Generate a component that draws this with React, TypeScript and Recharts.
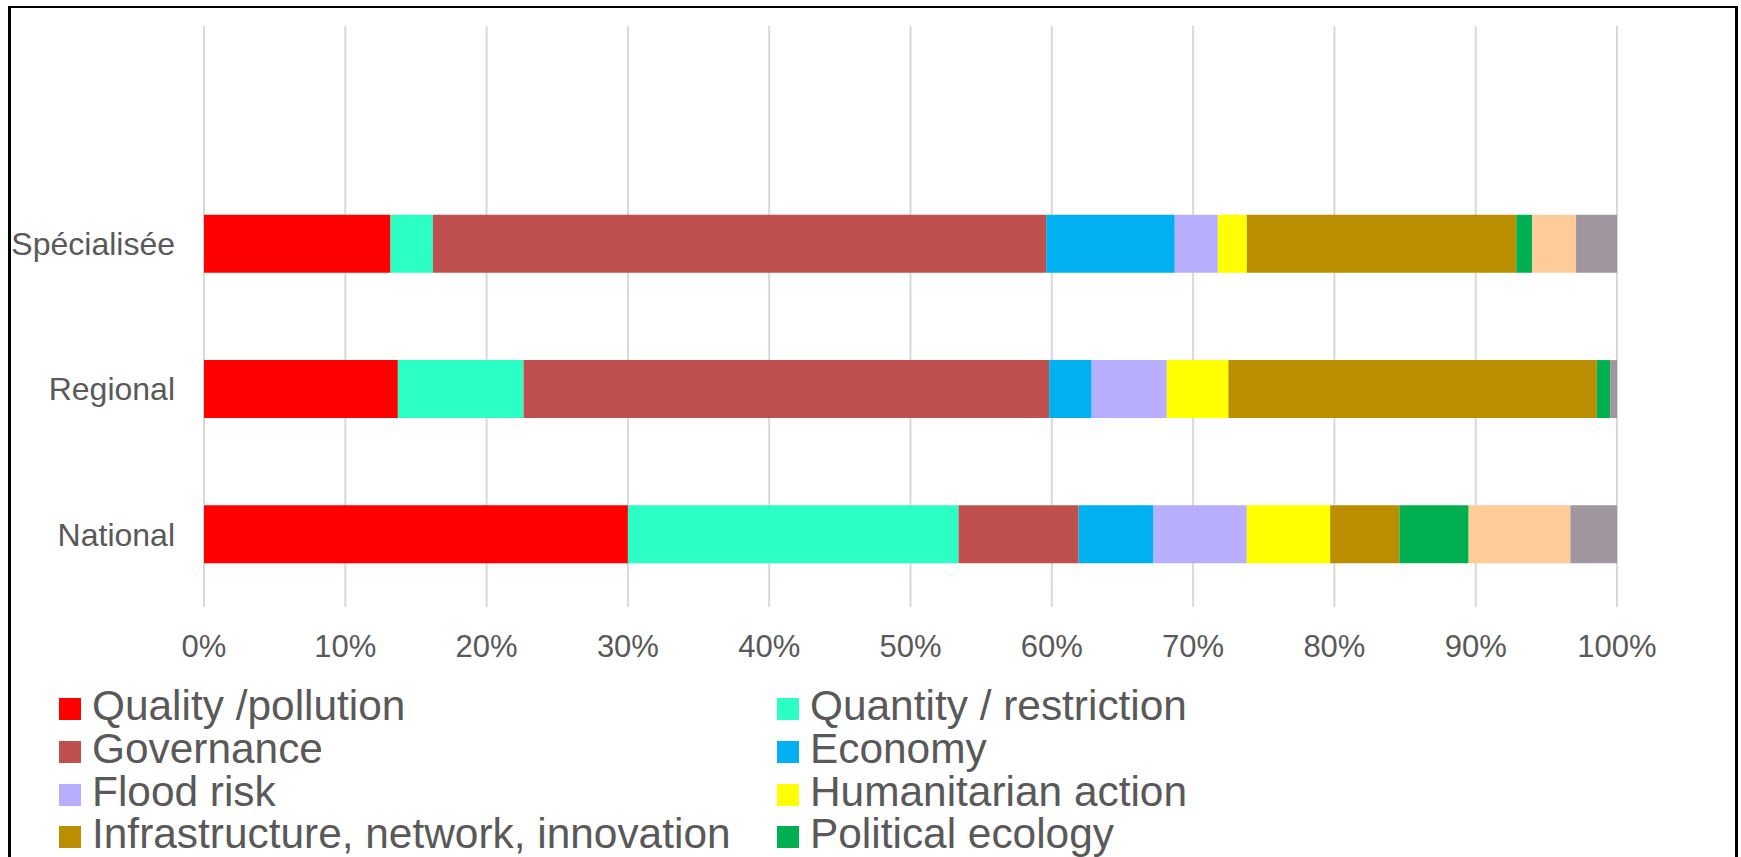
import { BarChart, Bar, XAxis, YAxis, CartesianGrid } from 'recharts';

// top to bottom; the first band is left empty, as in the source chart
const categories = ['', 'Spécialisée', 'Regional', 'National'];

const qualityPollution = [null, 13.2, 13.72, 30.0];
const quantityRestriction = [null, 3.0, 8.9, 23.4];
const governance = [null, 43.4, 37.19, 8.5];
const economy = [null, 9.1, 3.01, 5.3];
const floodRisk = [null, 3.05, 5.32, 6.6];
const humanitarianAction = [null, 2.05, 4.36, 5.9];
const infrastructure = [null, 19.07, 26.07, 4.9];
const politicalEcology = [null, 1.13, 0.95, 4.9];
const other = [null, 3.1, 0, 7.2];
const notSpecified = [null, 2.9, 0.48, 3.3];

const xTicks = [0, 10, 20, 30, 40, 50, 60, 70, 80, 90, 100];

const series = [
  { key: 'quality', name: 'Quality /pollution', color: '#FF0000', values: qualityPollution },
  { key: 'quantity', name: 'Quantity / restriction', color: '#2CFFC3', values: quantityRestriction },
  { key: 'governance', name: 'Governance', color: '#C0504D', values: governance },
  { key: 'economy', name: 'Economy', color: '#00B0F0', values: economy },
  { key: 'flood', name: 'Flood risk', color: '#B7AEFF', values: floodRisk },
  { key: 'humanitarian', name: 'Humanitarian action', color: '#FFFF00', values: humanitarianAction },
  { key: 'infra', name: 'Infrastructure, network, innovation', color: '#BB8E00', values: infrastructure },
  { key: 'political', name: 'Political ecology', color: '#00B050', values: politicalEcology },
  { key: 'other', name: 'Other', color: '#FFCC99', values: other },
  { key: 'unspecified', name: 'Not specified', color: '#A1969F', values: notSpecified },
];

const data = categories.map((category, i) => {
  const row: Record<string, string | number | null> = { category };
  series.forEach((s) => {
    row[s.key] = s.values[i];
  });
  return row;
});

const FONT = '"Liberation Sans", Arial, sans-serif';
const TEXT = '#595959';

export default function App() {
  return (
    <>
      <style>{'html,body{margin:0;padding:0;overflow:hidden;background:#fff}'}</style>
      <div
        style={{
          position: 'absolute',
          left: 8,
          top: 6,
          width: 1724,
          height: 849,
          overflow: 'hidden',
          borderTop: '2px solid #000',
          borderLeft: '3px solid #000',
          borderRight: '3px solid #000',
          background: '#fff',
          fontFamily: FONT,
        }}
      >
        <BarChart
          width={1724}
          height={661}
          data={data}
          layout="vertical"
          barCategoryGap="30%"
          margin={{ top: 18, right: 118, left: 0, bottom: 0 }}
        >
          <CartesianGrid horizontal={false} stroke="#D9D9D9" strokeWidth={2} />
          <XAxis
            type="number"
            domain={[0, 100]}
            ticks={xTicks}
            tickFormatter={(v) => `${v}%`}
            axisLine={false}
            tickLine={false}
            tickMargin={22}
            height={62}
            interval={0}
            tick={{ fill: TEXT, fontSize: 31, fontFamily: FONT }}
          />
          <YAxis
            type="category"
            dataKey="category"
            width={193}
            axisLine={false}
            tickLine={false}
            tickMargin={23}
            interval={0}
            tick={{ fill: TEXT, fontSize: 32, fontFamily: FONT }}
          />
          {series.map((s) => (
            <Bar key={s.key} dataKey={s.key} name={s.name} stackId="a" fill={s.color} isAnimationActive={false} />
          ))}
        </BarChart>
        <div
          style={{
            display: 'grid',
            gridTemplateColumns: '718px 718px',
            marginTop: 19,
            paddingLeft: 48,
          }}
        >
          {series.map((s) => (
            <div key={s.key} style={{ display: 'flex', alignItems: 'center', height: 42.67 }}>
              <span style={{ width: 22, height: 22, background: s.color, marginRight: 11, flexShrink: 0 }} />
              <span
                style={{
                  color: TEXT,
                  fontSize: 42.4,
                  lineHeight: '42px',
                  whiteSpace: 'nowrap',
                  position: 'relative',
                  top: -3,
                }}
              >
                {s.name}
              </span>
            </div>
          ))}
        </div>
      </div>
    </>
  );
}
